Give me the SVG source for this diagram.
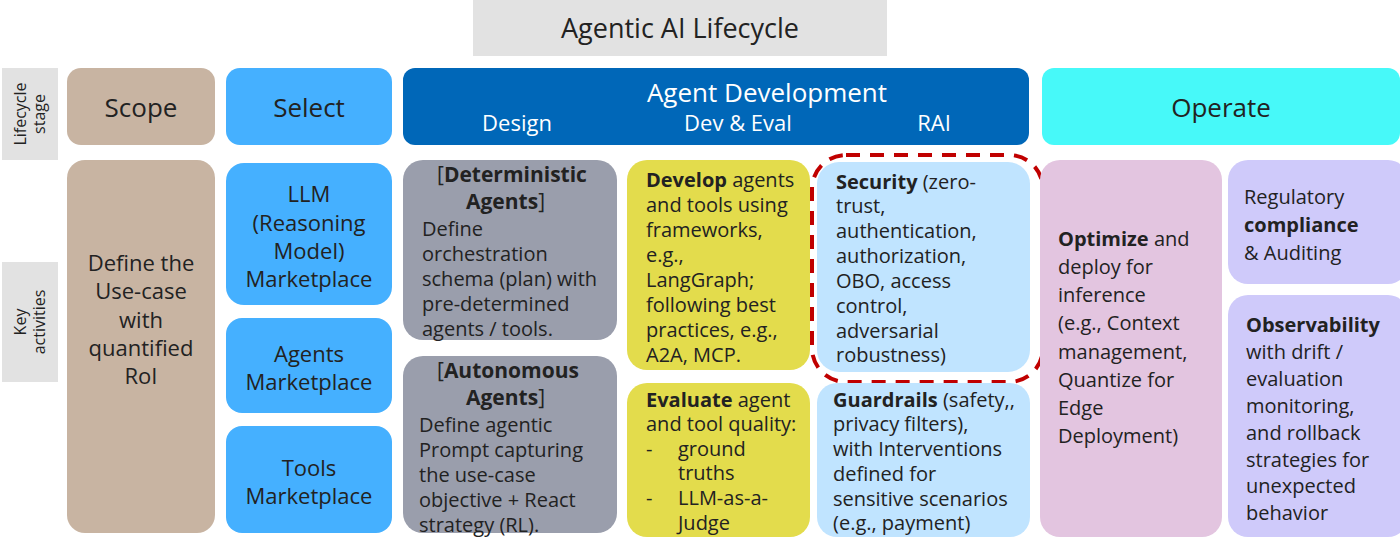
<svg xmlns="http://www.w3.org/2000/svg" width="1400" height="550" viewBox="0 0 1400 550">
<style>
text{font-family:"Open Sans","Noto Sans","Liberation Sans",sans-serif;fill:#222;}
.b{font-size:20px;}
.h{font-size:26px;text-anchor:middle;}
.c{text-anchor:middle;}
.bold{font-weight:bold;}
.side{font-size:16px;text-anchor:middle;}
</style>
<rect width="1400" height="550" fill="#fff"/>
<g id="title"><rect x="473" y="0" width="414" height="56" fill="#e2e2e2"/><text x="680" y="38" font-size="27" text-anchor="middle">Agentic AI Lifecycle</text></g>
<g id="lbl-stage"><rect x="2" y="68" width="56" height="92" fill="#e2e2e2"/><text class="side" transform="translate(30,114) rotate(-90)"><tspan x="0" y="-4">Lifecycle</tspan><tspan x="0" y="15">stage</tspan></text></g>
<g id="lbl-key"><rect x="2" y="262" width="56" height="120" fill="#e2e2e2"/><text class="side" transform="translate(30,322) rotate(-90)"><tspan x="0" y="-4">Key</tspan><tspan x="0" y="15">activities</tspan></text></g>

<g id="scope-h"><rect x="67" y="68" width="148" height="77" rx="14" fill="#c8b4a2"/><text class="h" x="141" y="117">Scope</text></g>
<g id="scope-b"><rect x="67" y="160" width="148" height="373" rx="18" fill="#c8b4a2"/><text class="c" font-size="22"><tspan x="141" y="271">Define the</tspan><tspan x="141" y="299">Use-case</tspan><tspan x="141" y="328">with</tspan><tspan x="141" y="356">quantified</tspan><tspan x="141" y="384">RoI</tspan></text></g>

<g id="select-h"><rect x="226" y="68" width="166" height="77" rx="14" fill="#45b0ff"/><text class="h" x="309" y="117">Select</text></g>
<g id="llm"><rect x="226" y="163" width="166" height="142" rx="18" fill="#45b0ff"/><text class="c" font-size="22"><tspan x="309" y="202">LLM</tspan><tspan x="309" y="231">(Reasoning</tspan><tspan x="309" y="259">Model)</tspan><tspan x="309" y="287">Marketplace</tspan></text></g>
<g id="agents"><rect x="226" y="318" width="166" height="95" rx="16" fill="#45b0ff"/><text class="c" font-size="22"><tspan x="309" y="362">Agents</tspan><tspan x="309" y="390">Marketplace</tspan></text></g>
<g id="tools"><rect x="226" y="426" width="166" height="107" rx="16" fill="#45b0ff"/><text class="c" font-size="22"><tspan x="309" y="476">Tools</tspan><tspan x="309" y="504">Marketplace</tspan></text></g>

<g id="dev-h"><rect x="403" y="68" width="626" height="77" rx="12" fill="#0067b8"/><text class="h" x="767" y="102" style="fill:#fff">Agent Development</text><text x="517" y="131" font-size="22" text-anchor="middle" style="fill:#fff">Design</text><text x="738" y="131" font-size="22" text-anchor="middle" style="fill:#fff">Dev &amp; Eval</text><text x="934" y="131" font-size="22" text-anchor="middle" style="fill:#fff">RAI</text></g>

<g id="determ"><rect x="403" y="160" width="214" height="180" rx="20" fill="#9a9eac"/><text class="b"><tspan x="437" y="182" font-size="21">[<tspan class="bold">Deterministic</tspan></tspan><tspan x="466" y="209" class="bold" font-size="21">Agents</tspan><tspan font-size="21">]</tspan><tspan x="422" y="236">Define</tspan><tspan x="422" y="261">orchestration</tspan><tspan x="422" y="286">schema (plan) with</tspan><tspan x="422" y="311">pre-determined</tspan><tspan x="422" y="336">agents / tools.</tspan></text></g>
<g id="auton"><rect x="403" y="356" width="214" height="177" rx="20" fill="#9a9eac"/><text class="b"><tspan x="437" y="378" font-size="21">[<tspan class="bold">Autonomous</tspan></tspan><tspan x="466" y="405" class="bold" font-size="21">Agents</tspan><tspan font-size="21">]</tspan><tspan x="419" y="432">Define agentic</tspan><tspan x="419" y="457">Prompt capturing</tspan><tspan x="419" y="482">the use-case</tspan><tspan x="419" y="507">objective + React</tspan><tspan x="419" y="532">strategy (RL).</tspan></text></g>

<g id="develop"><rect x="627" y="160" width="183" height="210" rx="20" fill="#e3dc4c"/><text class="b" font-size="19"><tspan x="646" y="187"><tspan class="bold">Develop</tspan> agents</tspan><tspan x="646" y="212">and tools using</tspan><tspan x="646" y="237">frameworks,</tspan><tspan x="646" y="262">e.g.,</tspan><tspan x="646" y="287">LangGraph;</tspan><tspan x="646" y="312">following best</tspan><tspan x="646" y="337">practices, e.g.,</tspan><tspan x="646" y="362">A2A, MCP.</tspan></text></g>
<g id="evaluate"><rect x="627" y="383" width="183" height="154" rx="20" fill="#e3dc4c"/><text class="b" font-size="19"><tspan x="646" y="407"><tspan class="bold">Evaluate</tspan> agent</tspan><tspan x="646" y="431">and tool quality:</tspan><tspan x="646" y="456">-</tspan><tspan x="678" y="456">ground</tspan><tspan x="678" y="480">truths</tspan><tspan x="646" y="505">-</tspan><tspan x="678" y="505">LLM-as-a-</tspan><tspan x="678" y="530">Judge</tspan></text></g>

<g id="security"><rect x="817" y="162" width="213" height="210" rx="22" fill="#c0e4ff"/><text class="b" font-size="19"><tspan x="836" y="189"><tspan class="bold">Security</tspan> (zero-</tspan><tspan x="836" y="213">trust,</tspan><tspan x="836" y="238">authentication,</tspan><tspan x="836" y="263">authorization,</tspan><tspan x="836" y="288">OBO, access</tspan><tspan x="836" y="313">control,</tspan><tspan x="836" y="338">adversarial</tspan><tspan x="836" y="362">robustness)</tspan></text><rect x="812" y="155" width="231" height="227" rx="34" fill="none" stroke="#c00000" stroke-width="4" stroke-dasharray="14 10"/></g>
<g id="guard"><rect x="817" y="383" width="213" height="154" rx="20" fill="#c0e4ff"/><text class="b" font-size="19"><tspan x="833" y="407"><tspan class="bold">Guardrails</tspan> (safety,,</tspan><tspan x="833" y="431">privacy filters),</tspan><tspan x="833" y="456">with Interventions</tspan><tspan x="833" y="481">defined for</tspan><tspan x="833" y="506">sensitive scenarios</tspan><tspan x="833" y="530">(e.g., payment)</tspan></text></g>

<g id="operate-h"><rect x="1042" y="68" width="358" height="77" rx="12" fill="#47f9f9"/><text class="h" x="1221" y="117">Operate</text></g>
<g id="optimize"><rect x="1040" y="160" width="182" height="377" rx="20" fill="#e3c5e0"/><text class="b" font-size="21"><tspan x="1058" y="246"><tspan class="bold">Optimize</tspan> and</tspan><tspan x="1058" y="274">deploy for</tspan><tspan x="1058" y="302">inference</tspan><tspan x="1058" y="330">(e.g., Context</tspan><tspan x="1058" y="359">management,</tspan><tspan x="1058" y="387">Quantize for</tspan><tspan x="1058" y="415">Edge</tspan><tspan x="1058" y="443">Deployment)</tspan></text></g>
<g id="regulatory"><rect x="1228" y="160" width="180" height="124" rx="20" fill="#cfcafa"/><text class="b" font-size="22"><tspan x="1244" y="204">Regulatory</tspan><tspan x="1244" y="232" class="bold">compliance</tspan><tspan x="1244" y="260">&amp; Auditing</tspan></text></g>
<g id="observ"><rect x="1228" y="295" width="180" height="242" rx="20" fill="#cfcafa"/><text class="b" font-size="20"><tspan x="1246" y="332" class="bold">Observability</tspan><tspan x="1246" y="359">with drift /</tspan><tspan x="1246" y="386">evaluation</tspan><tspan x="1246" y="413">monitoring,</tspan><tspan x="1246" y="440">and rollback</tspan><tspan x="1246" y="467">strategies for</tspan><tspan x="1246" y="493">unexpected</tspan><tspan x="1246" y="520">behavior</tspan></text></g>
<g id="connectors"/>
</svg>
